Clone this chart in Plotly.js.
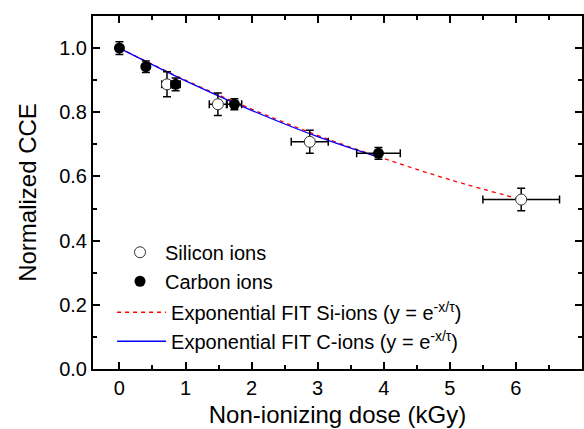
<!DOCTYPE html>
<html>
<head>
<meta charset="utf-8">
<script src="https://cdn.plot.ly/plotly-3.0.1.min.js"></script>
<style>
  html, body { margin: 0; padding: 0; background: #fff; }
  #chart { width: 584px; height: 429px; }
</style>
</head>
<body>
<div id="chart"></div>
<script>
// Silicon-ion irradiation: dose (kGy) vs normalized CCE with uncertainties
const siDose    = [0.72, 1.49, 2.88, 6.08];
const siCCE     = [0.887, 0.825, 0.708, 0.528];
const siDoseErr = [0.08, 0.13, 0.28, 0.58];
const siCCEErr  = [0.039, 0.035, 0.036, 0.035];

// Carbon-ion irradiation
const cDose    = [0.0, 0.40, 0.85, 1.74, 3.92];
const cCCE     = [1.0, 0.942, 0.887, 0.825, 0.672];
const cDoseErr = [0.0, 0.0, 0.07, 0.11, 0.33];
const cCCEErr  = [0.02, 0.018, 0.02, 0.017, 0.018];

// Exponential fit curves, sampled along each fit
const siFitDose = [0, 1, 2, 3, 4, 5, 6.08];
const siFitCCE  = [1.0, 0.90, 0.81, 0.728, 0.656, 0.59, 0.528];
const cFitDose  = [0, 1, 2, 3, 3.92];
const cFitCCE   = [1.0, 0.898, 0.806, 0.724, 0.66];

// Tick labels
const xTicks = [0, 1, 2, 3, 4, 5, 6, 7];
const yTicks = [0.0, 0.2, 0.4, 0.6, 0.8, 1.0];
const yTickText = yTicks.map(v => v.toFixed(1));

const FONT = 'Liberation Sans, Arial, sans-serif';

const traces = [
  {
    x: siFitDose, y: siFitCCE, type: 'scatter', mode: 'lines',
    line: { color: '#ff0000', width: 1.3, dash: '4px,4px', shape: 'spline' },
    name: 'Exponential FIT Si-ions (y = e<sup>-x/τ</sup>)',
    legend: 'legend2'
  },
  {
    x: cFitDose, y: cFitCCE, type: 'scatter', mode: 'lines',
    line: { color: '#0000ff', width: 1.3, shape: 'spline' },
    name: 'Exponential FIT C-ions (y = e<sup>-x/τ</sup>)',
    legend: 'legend2'
  },
  {
    x: siDose, y: siCCE, type: 'scatter', mode: 'markers',
    name: 'Silicon ions',
    marker: { symbol: 'circle', size: 11, color: '#ffffff', line: { color: '#333333', width: 1 } },
    error_x: { type: 'data', array: siDoseErr, color: '#000', thickness: 1.5, width: 4 },
    error_y: { type: 'data', array: siCCEErr, color: '#000', thickness: 1.5, width: 4 },
    legend: 'legend'
  },
  {
    x: cDose, y: cCCE, type: 'scatter', mode: 'markers',
    name: 'Carbon ions',
    marker: { symbol: 'circle', size: 11, color: '#000000' },
    error_x: { type: 'data', array: cDoseErr, color: '#000', thickness: 1.5, width: 4 },
    error_y: { type: 'data', array: cCCEErr, color: '#000', thickness: 1.5, width: 4 },
    legend: 'legend'
  }
];

const layout = {
  width: 584, height: 429,
  margin: { l: 93, r: 2, t: 16, b: 60 },
  paper_bgcolor: '#fff', plot_bgcolor: '#fff',
  font: { family: FONT, color: '#000', size: 20 },
  xaxis: {
    range: [-0.4, 7.0],
    tickvals: xTicks, ticktext: xTicks.map(String),
    ticks: 'inside', ticklen: 7, tickwidth: 2, tickcolor: '#000',
    minor: { dtick: 0.5, tick0: 0, ticks: 'inside', ticklen: 4, tickwidth: 2, tickcolor: '#000' },
    showline: true, linewidth: 2, linecolor: '#000', mirror: 'ticks',
    showgrid: false, zeroline: false,
    tickfont: { family: FONT, size: 20 },
    title: { text: 'Non-ionizing dose (kGy)', font: { family: FONT, size: 24 }, standoff: 8 }
  },
  yaxis: {
    range: [0, 1.1],
    tickvals: yTicks, ticktext: yTickText,
    ticks: 'inside', ticklen: 7, tickwidth: 2, tickcolor: '#000',
    minor: { dtick: 0.1, tick0: 0, ticks: 'inside', ticklen: 4, tickwidth: 2, tickcolor: '#000' },
    showline: true, linewidth: 2, linecolor: '#000', mirror: 'ticks',
    showgrid: false, zeroline: false,
    tickfont: { family: FONT, size: 20 },
    title: { text: 'Normalized CCE', font: { family: FONT, size: 24 }, standoff: 16 }
  },
  showlegend: true,
  legend: {
    x: 0.045, y: 0.386, xanchor: 'left', yanchor: 'top',
    bgcolor: 'rgba(0,0,0,0)', borderwidth: 0,
    itemwidth: 40, tracegroupgap: 0,
    font: { family: FONT, size: 20 }
  },
  legend2: {
    x: 0.039, y: 0.216, xanchor: 'left', yanchor: 'top',
    bgcolor: 'rgba(0,0,0,0)', borderwidth: 0,
    itemwidth: 49, tracegroupgap: 0,
    font: { family: FONT, size: 20 }
  }
};

Plotly.newPlot('chart', traces, layout, { displayModeBar: false, staticPlot: true });
</script>
</body>
</html>
